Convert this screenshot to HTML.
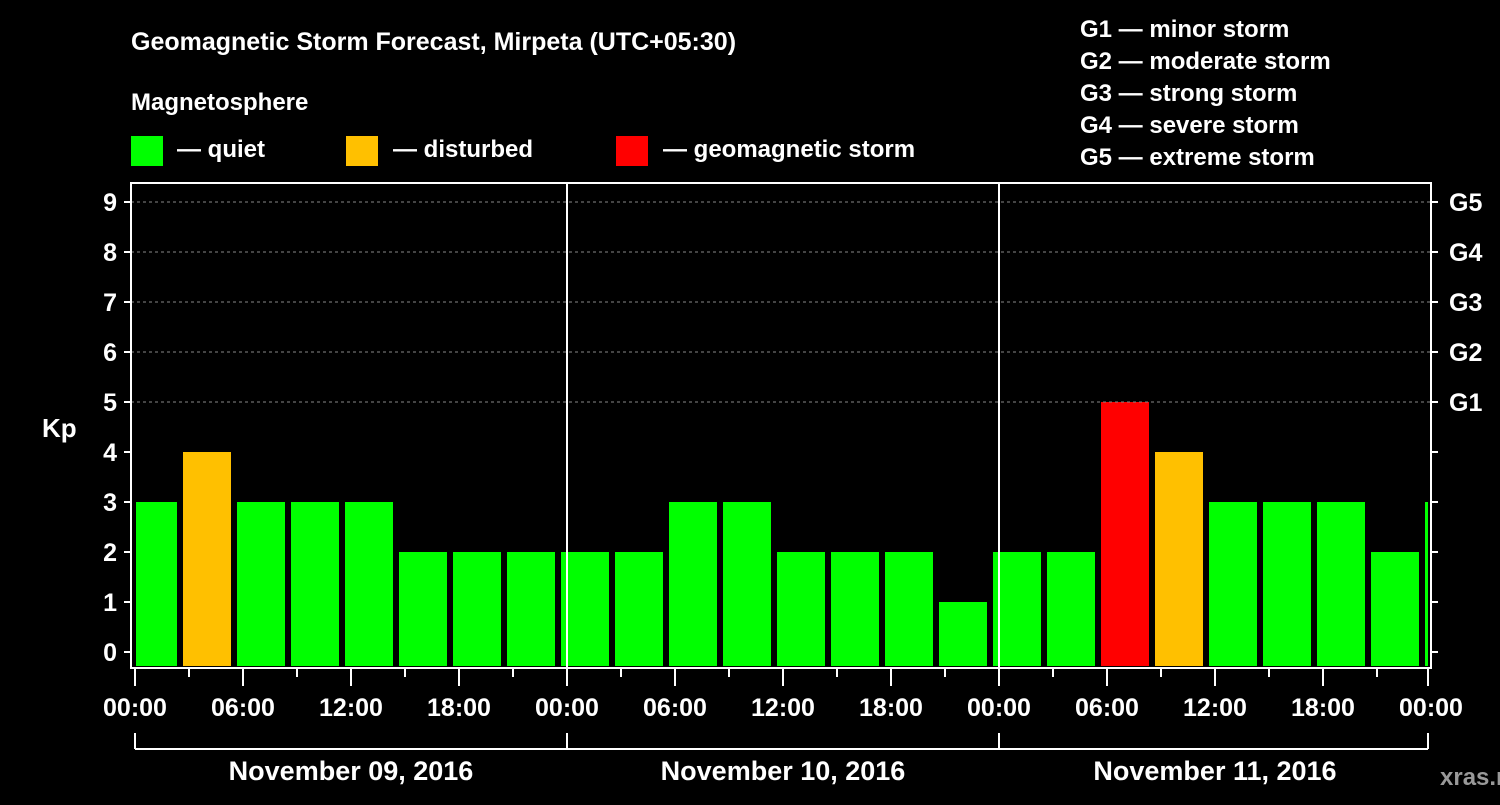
<!DOCTYPE html>
<html><head><meta charset="utf-8"><style>
body{margin:0;background:#000;width:1500px;height:800px;overflow:hidden}
svg text{font-family:"Liberation Sans",sans-serif;font-weight:bold;fill:#fff}
</style></head><body>
<svg id="c" width="1500" height="800">
<text x="131" y="50" font-size="25">Geomagnetic Storm Forecast, Mirpeta (UTC+05:30)</text>
<text x="131" y="110" font-size="24">Magnetosphere</text>
<g><rect x="131" y="136" width="32" height="30" fill="#00ff00"/><text x="177" y="157" font-size="24">— quiet</text></g>
<g><rect x="346" y="136" width="32" height="30" fill="#ffc000"/><text x="393" y="157" font-size="24">— disturbed</text></g>
<g><rect x="616" y="136" width="32" height="30" fill="#ff0000"/><text x="663" y="157" font-size="24">— geomagnetic storm</text></g>
<g font-size="24">
<text x="1080" y="37">G1 — minor storm</text><text x="1080" y="69">G2 — moderate storm</text><text x="1080" y="101">G3 — strong storm</text><text x="1080" y="133">G4 — severe storm</text><text x="1080" y="165">G5 — extreme storm</text>
</g>
<text x="42" y="437" font-size="26">Kp</text>
<text x="1440" y="785" font-size="24" fill="#aaa" style="fill:#999">xras.ru</text>
<g id="plot"></g>
</svg>
<script>
const kpValues=[3,4,3,3,3,2,2,2,2,2,3,3,2,2,2,1,2,2,5,4,3,3,3,2,3];
const yTicks=[0,1,2,3,4,5,6,7,8,9];
const gLabels=["G1","G2","G3","G4","G5"];
const xLabels=["00:00","06:00","12:00","18:00","00:00","06:00","12:00","18:00","00:00","06:00","12:00","18:00","00:00"];
const dayLabels=["November 09, 2016","November 10, 2016","November 11, 2016"];
const X0=135,HOUR=18,L=131,R=1431,T=183,B=668;
const x=h=>X0+h*HOUR, y=v=>652-50*v;
const NS="http://www.w3.org/2000/svg", g=document.getElementById('plot');
function mk(t,a,p){const e=document.createElementNS(NS,t);for(const k in a)e.setAttribute(k,a[k]);(p||g).appendChild(e);return e;}
// bars
kpValues.forEach((v,i)=>{
  let l=x(3*i-0.5)+3, r=l+48;
  l=Math.max(l,L+5); r=Math.min(r,R-3);
  const c=v>=5?"#ff0000":v>=4?"#ffc000":"#00ff00";
  const e=mk('rect',{x:l,y:y(v),width:r-l,height:B-2-y(v),fill:c});
  
  
});
// grid
[5,6,7,8,9].forEach(v=>{const e=mk('line',{x1:L,x2:R,y1:y(v),y2:y(v),stroke:"#888","stroke-dasharray":"3,3"});
});
// frame
const fr=mk('rect',{x:L,y:T,width:R-L,height:B-T,fill:"none",stroke:"#fff","stroke-width":2});

[24,48].forEach(h=>{const e=mk('line',{x1:x(h),x2:x(h),y1:T,y2:B,stroke:"#fff","stroke-width":2});
});
yTicks.forEach(v=>{
  mk('line',{x1:L-7,x2:L,y1:y(v),y2:y(v),stroke:"#fff","stroke-width":2});
  mk('line',{x1:R,x2:R+7,y1:y(v),y2:y(v),stroke:"#fff","stroke-width":2});
  const t=mk('text',{x:L-14,y:y(v)+9,"text-anchor":"end","font-size":25});t.textContent=v;
  
});
gLabels.forEach((s,i)=>{const t=mk('text',{x:R+18,y:y(5+i)+9,"font-size":25});t.textContent=s;
});
for(let h=0;h<=72;h+=3){const maj=h%6==0;mk('line',{x1:x(h)-(h==72?3:0),x2:x(h)-(h==72?3:0),y1:B,y2:maj?686:677,stroke:"#fff","stroke-width":2});}
xLabels.forEach((s,i)=>{const t=mk('text',{x:x(6*i),y:716,"text-anchor":"middle","font-size":25});t.textContent=s;
});
mk('line',{x1:x(0),x2:x(72)-3,y1:749,y2:749,stroke:"#fff","stroke-width":2});
[0,24,48,72].forEach(h=>mk('line',{x1:x(h)-(h==72?3:0),x2:x(h)-(h==72?3:0),y1:733,y2:749,stroke:"#fff","stroke-width":2}));
dayLabels.forEach((s,i)=>{const t=mk('text',{x:x(24*i+12),y:780,"text-anchor":"middle","font-size":27});t.textContent=s;
});
</script>
</body></html>
